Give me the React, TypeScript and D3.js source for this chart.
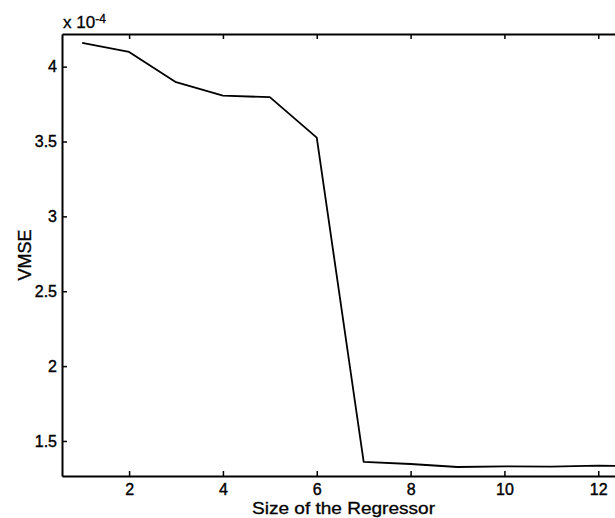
import React, { useEffect, useRef } from 'react';
import * as d3 from 'd3';

// regressor size vs. VMSE (values in real units, axis shows x 10^-4)
const sizes = [1, 2, 3, 4, 5, 6, 7, 8, 9, 10, 11, 12, 13];
const vmse = [
  4.158e-4, 4.098e-4, 3.896e-4, 3.806e-4, 3.796e-4, 3.526e-4,
  1.36e-4, 1.346e-4, 1.326e-4, 1.33e-4, 1.328e-4, 1.335e-4, 1.33e-4,
];
const xTicks = [2, 4, 6, 8, 10, 12];
const yTicks = [1.5e-4, 2e-4, 2.5e-4, 3e-4, 3.5e-4, 4e-4];

const W = 615;
const H = 518;
const FONT = '"Liberation Sans", Arial, Helvetica, sans-serif';

export default function App() {
  const ref = useRef<SVGSVGElement>(null);

  useEffect(() => {
    const margin = { top: 34, right: -10, bottom: 42, left: 62 };
    const left = margin.left,
      right = W - margin.right,
      top = margin.top,
      bottom = H - margin.bottom;

    const x = d3.scaleLinear().domain([0.57, 12.57]).range([left, right]);
    const y = d3.scaleLinear().domain([1.266e-4, 4.218e-4]).range([bottom, top]);

    const svg = d3.select(ref.current);
    svg.selectAll('*').remove();

    svg
      .append('defs')
      .append('clipPath')
      .attr('id', 'plot-clip')
      .append('rect')
      .attr('x', left)
      .attr('y', top)
      .attr('width', right - left)
      .attr('height', bottom - top);

    const fmt = (d: number) => String(Math.round(d * 1e5) / 10);

    // bottom axis
    svg
      .append('g')
      .attr('transform', 'translate(0,' + bottom + ')')
      .call(
        d3.axisBottom(x).tickValues(xTicks).tickSizeInner(-5).tickSizeOuter(0).tickPadding(8)
      );

    // top axis, ticks only
    svg
      .append('g')
      .attr('transform', 'translate(0,' + top + ')')
      .call(
        d3.axisTop(x).tickValues(xTicks).tickSizeInner(-5).tickSizeOuter(0).tickFormat(() => '')
      );

    // left axis
    svg
      .append('g')
      .attr('transform', 'translate(' + left + ',0)')
      .call(
        d3.axisLeft(y).tickValues(yTicks).tickSizeInner(-5).tickSizeOuter(0).tickPadding(5).tickFormat(fmt as any)
      );

    // right axis (mostly outside the view)
    svg
      .append('g')
      .attr('transform', 'translate(' + right + ',0)')
      .call(
        d3.axisRight(y).tickValues(yTicks).tickSizeInner(-5).tickSizeOuter(0).tickFormat(() => '')
      );

    svg
      .selectAll('.domain')
      .attr('stroke', '#000')
      .attr('stroke-width', 2);
    svg.selectAll('.tick line').attr('stroke', '#000').attr('stroke-width', 1.5);
    svg
      .selectAll('.tick text')
      .attr('fill', '#000')
      .attr('stroke', '#000')
      .attr('stroke-width', 0.4)
      .style('font-family', FONT)
      .style('font-size', '16px');

    const line = d3
      .line<number>()
      .x((d, i) => x(sizes[i]))
      .y((d) => y(d));

    svg
      .append('path')
      .datum(vmse)
      .attr('clip-path', 'url(#plot-clip)')
      .attr('fill', 'none')
      .attr('stroke', '#000')
      .attr('stroke-width', 1.8)
      .attr('stroke-linejoin', 'round')
      .attr('d', line);

    // axis labels
    svg
      .append('text')
      .attr('x', (left + right) / 2)
      .attr('y', bottom + 38)
      .attr('text-anchor', 'middle')
      .attr('textLength', 183)
      .attr('lengthAdjust', 'spacingAndGlyphs')
      .attr('stroke', '#000')
      .attr('stroke-width', 0.3)
      .style('font-family', FONT)
      .style('font-size', '16px')
      .text('Size of the Regressor');

    svg
      .append('text')
      .attr('transform', 'translate(31,' + (top + bottom) / 2 + ') rotate(-90)')
      .attr('text-anchor', 'middle')
      .attr('stroke', '#000')
      .attr('stroke-width', 0.3)
      .style('font-family', FONT)
      .style('font-size', '18px')
      .text('VMSE');

    // exponent label
    const ex = svg
      .append('text')
      .attr('x', left + 1)
      .attr('y', top - 6)
      .attr('stroke', '#000')
      .attr('stroke-width', 0.3)
      .style('font-family', FONT)
      .style('font-size', '17px');
    ex.append('tspan').text('x 10');
    ex.append('tspan').attr('dy', -5).style('font-size', '12px').text('-4');
  }, []);

  return (
    <div style={{ position: 'fixed', left: 0, top: 0 }}>
      <svg ref={ref} width={W} height={H} style={{ display: 'block', background: '#fff' }} />
    </div>
  );
}
